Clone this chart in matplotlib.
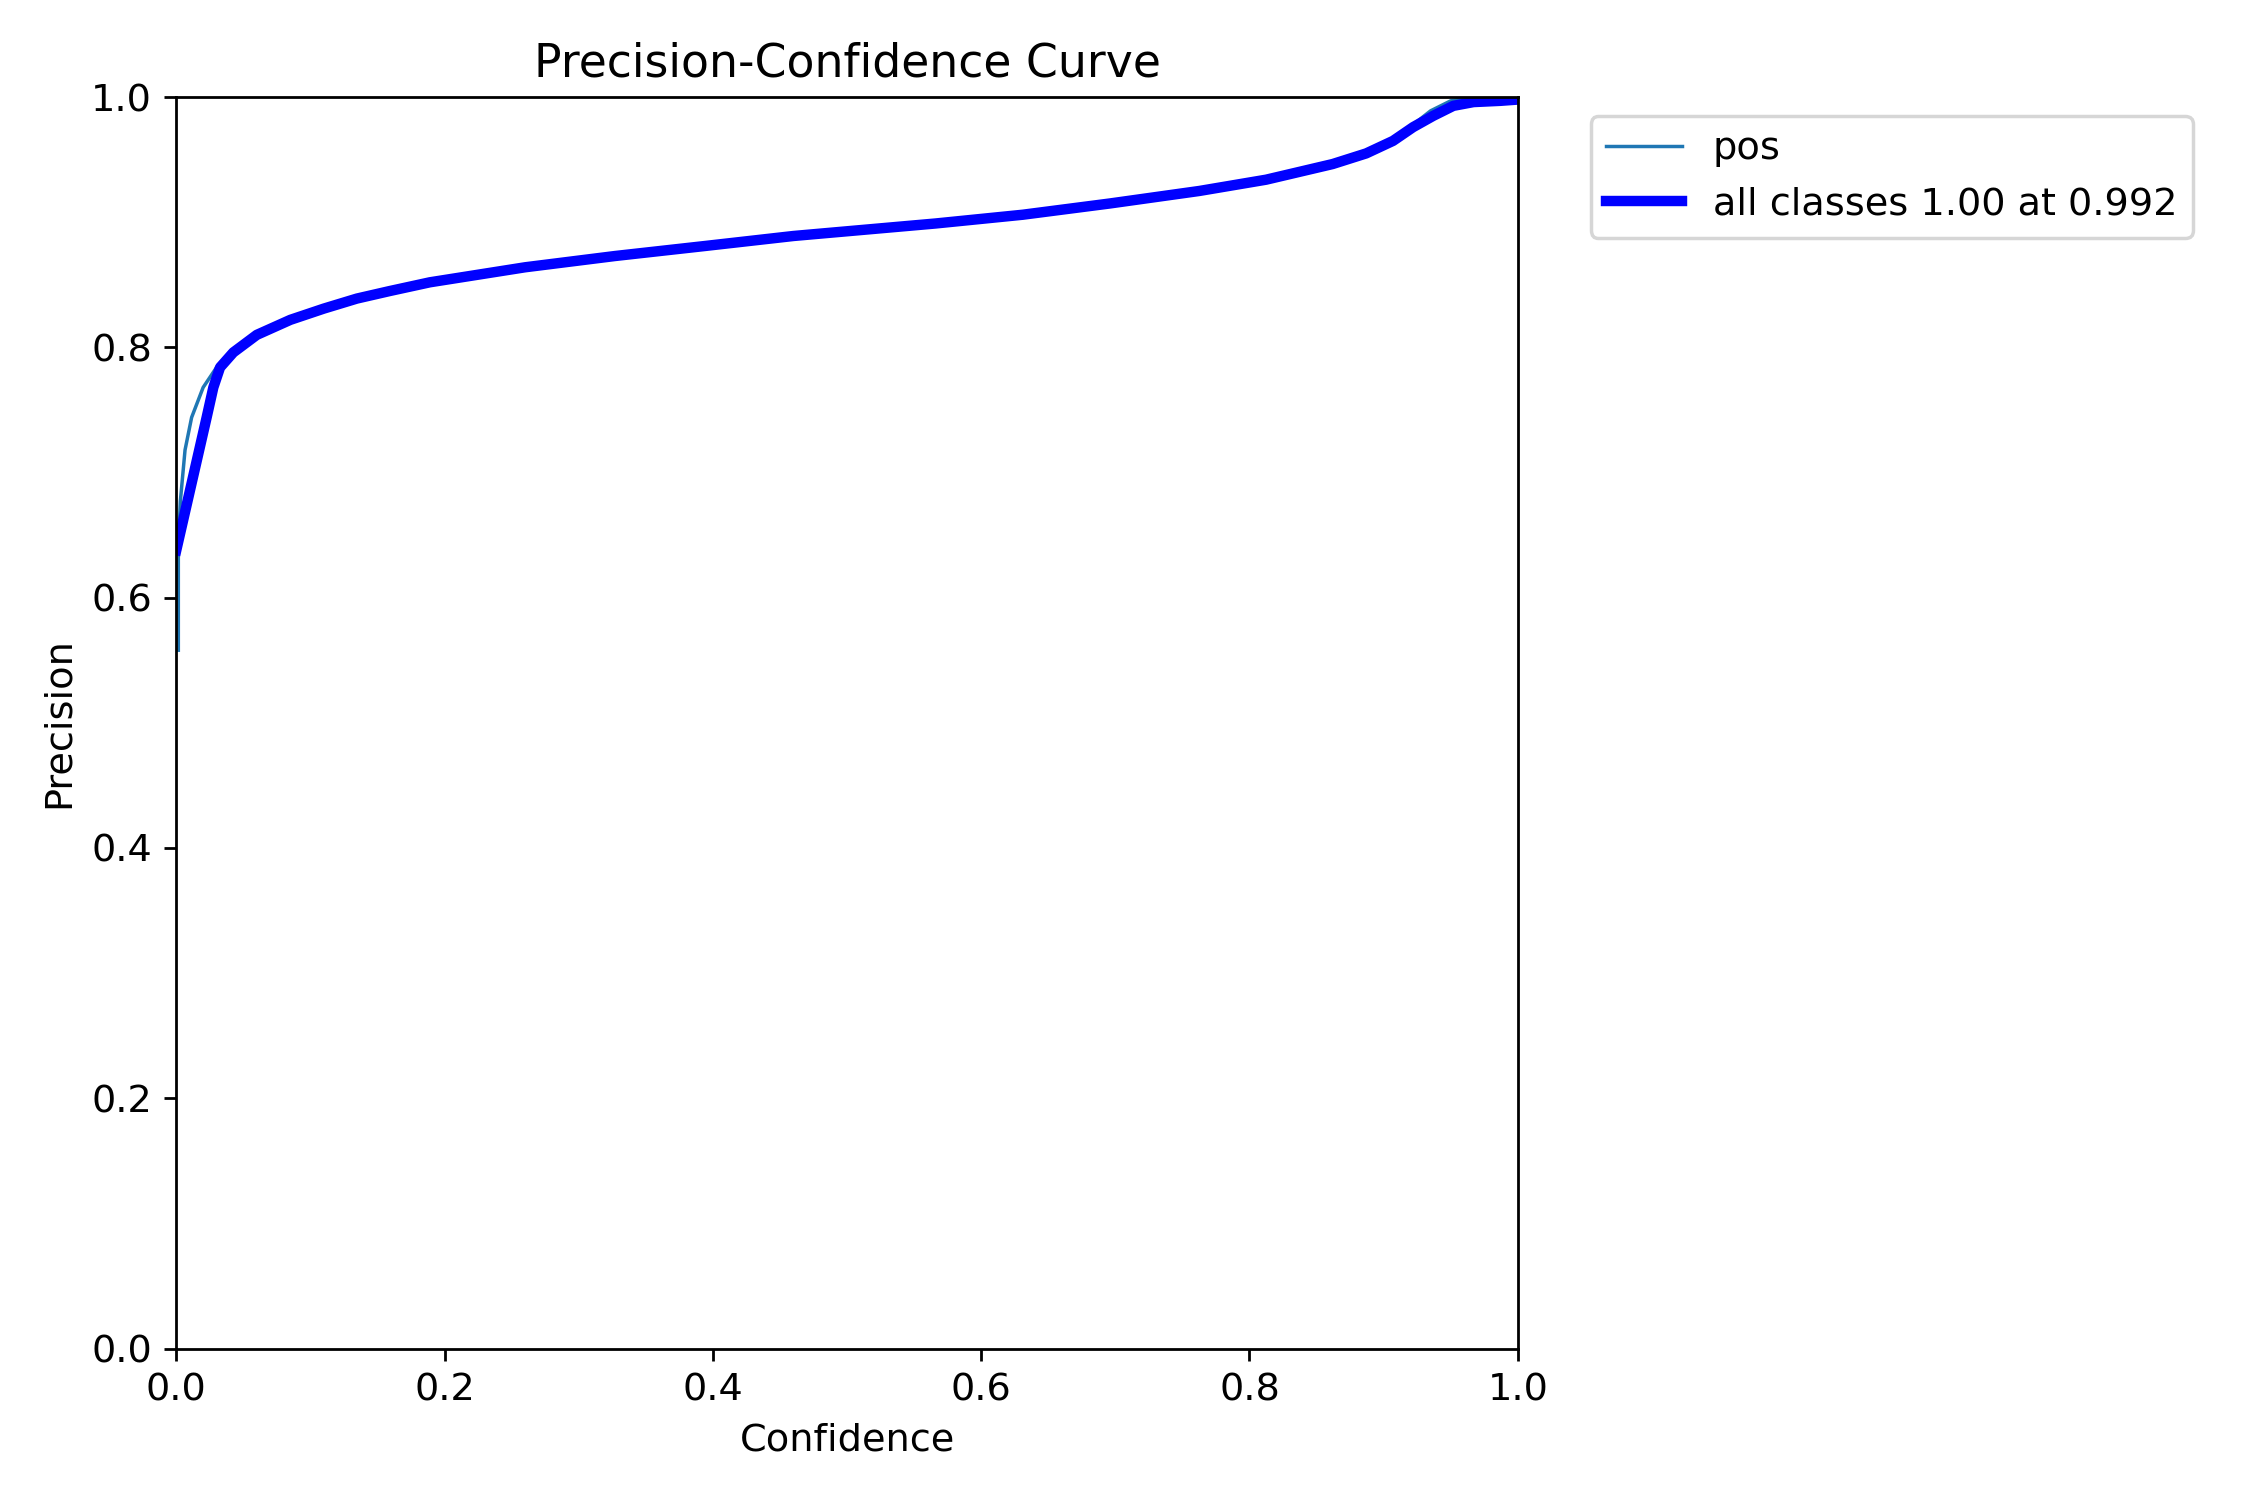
import matplotlib
matplotlib.use("Agg")
import matplotlib.pyplot as plt
import numpy as np

plt.rcParams["font.size"] = 11

# confidence / precision
conf_pos = [0.0015, 0.0015, 0.003, 0.0065, 0.0114, 0.020, 0.030, 0.0425, 0.060, 0.085,
            0.110, 0.1346, 0.159, 0.189, 0.260, 0.327, 0.394, 0.460, 0.513, 0.566,
            0.631, 0.696, 0.7627, 0.8124, 0.862, 0.887, 0.907, 0.922, 0.935, 0.950,
            0.965, 1.0]
prec_pos = [0.558, 0.640, 0.677, 0.718, 0.744, 0.768, 0.784, 0.796, 0.810, 0.822,
            0.831, 0.839, 0.845, 0.852, 0.864, 0.873, 0.881, 0.889, 0.894, 0.899,
            0.906, 0.915, 0.925, 0.934, 0.9465, 0.955, 0.966, 0.978, 0.989, 0.997,
            1.0, 1.0]

conf_all = [0.0, 0.0226, 0.0276, 0.0326, 0.0425, 0.060, 0.085, 0.110, 0.1346, 0.159,
            0.189, 0.260, 0.327, 0.394, 0.460, 0.513, 0.566, 0.631, 0.696, 0.7627,
            0.8124, 0.862, 0.887, 0.907, 0.922, 0.937, 0.952, 0.967, 0.987, 1.0]
prec_all = [0.638, 0.744, 0.768, 0.784, 0.796, 0.810, 0.822, 0.831, 0.839, 0.845,
            0.852, 0.864, 0.873, 0.881, 0.889, 0.894, 0.899, 0.906, 0.915, 0.925,
            0.934, 0.9465, 0.955, 0.965, 0.976, 0.985, 0.993, 0.996, 0.997, 0.998]

fig, ax = plt.subplots(1, 1, figsize=(9, 6), tight_layout=True)
ax.plot(conf_pos, prec_pos, linewidth=1, label="pos")
ax.plot(conf_all, prec_all, linewidth=3, color="blue", label="all classes 1.00 at 0.992")
ax.set_xlabel("Confidence")
ax.set_ylabel("Precision")
ax.set_xlim(0, 1)
ax.set_ylim(0, 1)
ax.legend(bbox_to_anchor=(1.04, 1), loc="upper left")
ax.set_title("Precision-Confidence Curve")
fig.savefig("out.png", dpi=250)
plt.close()
